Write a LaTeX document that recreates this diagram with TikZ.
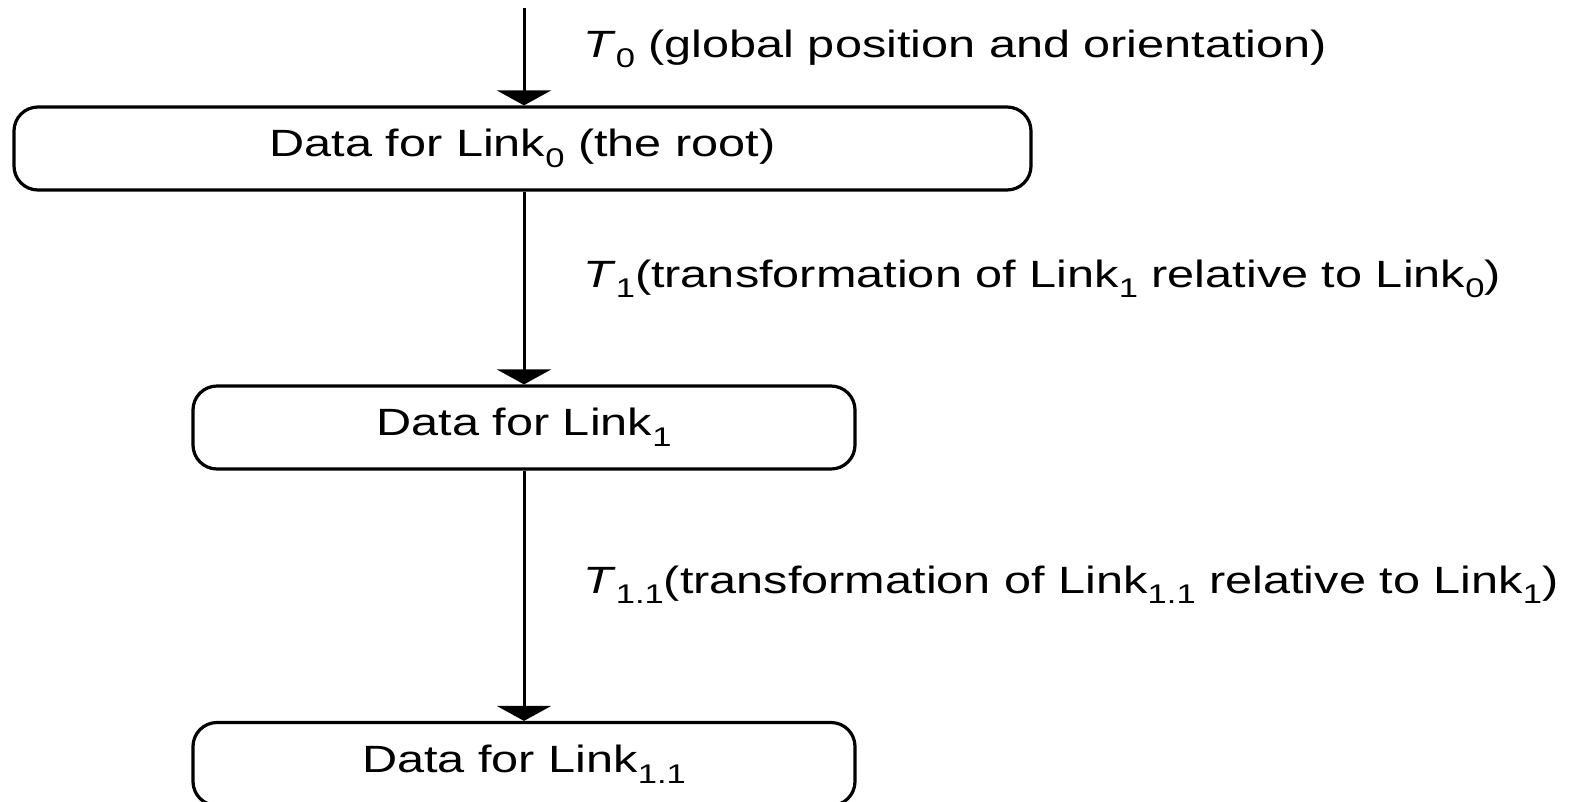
\documentclass[tikz,border=0pt]{standalone}
\usepackage{fontspec}
\setmainfont[FakeStretch=1.28]{Liberation Sans}
\usetikzlibrary{arrows.meta}
% lowered, smaller index after a symbol
\newcommand\lsub[1]{\raisebox{-0.28em}{\fontsize{27}{27}\selectfont #1}}

\begin{document}
\begin{tikzpicture}[x=1pt,y=-1pt,
  linkbox/.style={draw, line width=3.2pt, rounded corners=24pt,
    minimum height=83pt, inner sep=0pt,
    font=\fontsize{38}{40}\selectfont},
  flow/.style={line width=3pt, -{Triangle[width=54pt,length=15pt]}},
  tlabel/.style={anchor=base west, inner sep=0pt,
    font=\fontsize{38}{40}\selectfont}]
\useasboundingbox (0,0) rectangle (1574,801);

% link records
\node[linkbox, minimum width=1017pt] (b0) at (522.5,148.5)
  {Data for Link\lsub{0} (the root)};
\node[linkbox, minimum width=662pt] (b1) at (524,427.5)
  {Data for Link\lsub{1}};
\node[linkbox, minimum width=662pt] (b2) at (524,764)
  {Data for Link\lsub{1.1}};

% incoming global transform
\coordinate (top) at (524,8);

% connectors
\draw[flow] (top) -- (top |- b0.north);
\draw[flow] (b0.south -| b1.north) -- (b1.north);
\draw[flow] (b1.south) -- (b2.north);

% transform labels
\node[tlabel] (l0) at (583,57)
  {\textit{T}\lsub{0} (global position and orientation)};
\node[tlabel] (l1) at (583,287)
  {\textit{T}\lsub{1}(transformation of Link\lsub{1} relative to Link\lsub{0})};
\node[tlabel] (l2) at (583,593)
  {\textit{T}\lsub{1.1}(transformation of Link\lsub{1.1} relative to Link\lsub{1})};
\end{tikzpicture}
\end{document}
